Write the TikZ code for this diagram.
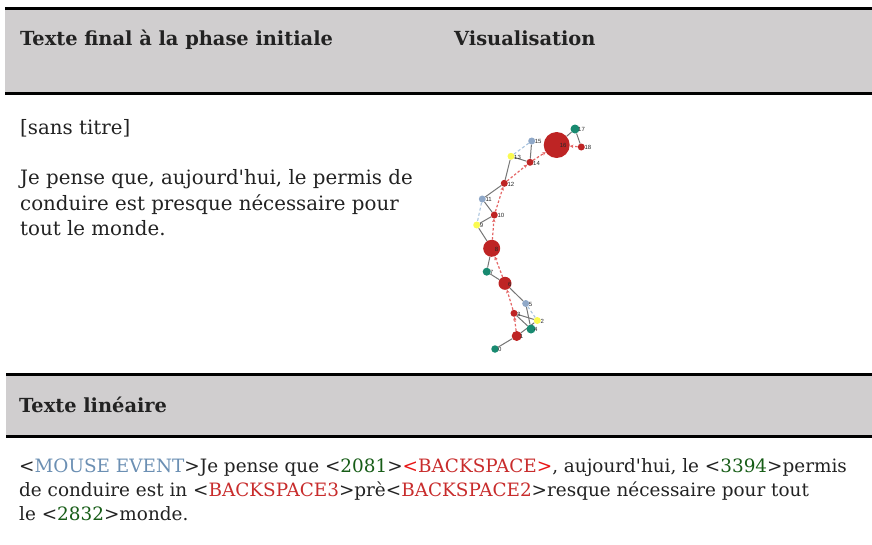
\documentclass[tikz,border=0pt]{standalone}
\usepackage{fontspec}
\usetikzlibrary{arrows.meta,backgrounds}
\newfontfamily\txtfont{DejaVu Serif}
\newfontfamily\lblfont{Liberation Sans}
\definecolor{bandgray}{RGB}{208,206,207}
\definecolor{ink}{RGB}{34,34,34}
\definecolor{mblue}{RGB}{107,143,179}
\definecolor{ngreen}{RGB}{22,92,22}
\definecolor{bsred}{RGB}{200,44,44}
\definecolor{brred}{RGB}{232,20,20}
\definecolor{gred}{RGB}{190,36,36}
\definecolor{gteal}{RGB}{24,138,112}
\definecolor{gblue}{RGB}{143,168,200}
\definecolor{gyellow}{RGB}{250,250,80}
\definecolor{dred}{RGB}{228,100,100}
\definecolor{dblue}{RGB}{170,196,222}
\definecolor{edgegray}{RGB}{118,118,118}
\tikzset{
  headtxt/.style={anchor=base west, inner sep=0, text=ink, font=\txtfont\bfseries\fontsize{19.4}{23}\selectfont},
  bodytxt/.style={anchor=base west, inner sep=0, text=ink, font=\txtfont\fontsize{19.8}{24}\selectfont},
  lintxt/.style={anchor=base west, inner sep=0, text=ink, font=\txtfont\fontsize{18.4}{22}\selectfont},
  gnode/.style={circle, inner sep=0, draw=none},
  lbl/.style={anchor=west, inner sep=0, text=black!85, font=\lblfont\fontsize{6}{7}\selectfont},
  solidedge/.style={draw=edgegray, line width=1pt},
  redarrow/.style={draw=dred, line width=1.2pt, dash pattern=on 2.5pt off 2pt, -{Stealth[length=3.5pt,width=3.5pt]}},
  bluedash/.style={draw=dblue, line width=1.1pt, dash pattern=on 3pt off 2.2pt},
}
\begin{document}
\begin{tikzpicture}[x=1pt,y=-1pt]
\useasboundingbox (0,0) rectangle (872,544);
% top band
\fill[bandgray] (5,10) rectangle (872,91.5);
\fill[black] (5,7) rectangle (872,10);
\fill[black] (5,91.5) rectangle (872,95);
% bottom band
\fill[bandgray] (6,376) rectangle (872,435);
\fill[black] (6,373) rectangle (872,376);
\fill[black] (6,435) rectangle (872,438);

\node[headtxt] (h1) at (20,45) {Texte final à la phase initiale};
\node[headtxt] (h2) at (454,45) {Visualisation};
\node[bodytxt] (t0) at (20,134) {[sans titre]};
\node[bodytxt] (t1) at (20,184) {Je pense que, aujourd'hui, le permis de};
\node[bodytxt] (t2) at (20,210) {conduire est presque nécessaire pour};
\node[bodytxt] (t3) at (20,235) {tout le monde.};
\node[headtxt] (h3) at (19,412) {Texte linéaire};
\node[lintxt] (l1) at (19,472) {<\textcolor{mblue}{MOUSE EVENT}>Je pense que <\textcolor{ngreen}{2081}>\textcolor{brred}{<}\textcolor{bsred}{BACKSPACE}\textcolor{brred}{>}, aujourd'hui, le <\textcolor{ngreen}{3394}>permis};
\node[lintxt] (l2) at (19,496) {de conduire est in <\textcolor{bsred}{BACKSPACE3}>prè<\textcolor{bsred}{BACKSPACE2}>resque nécessaire pour tout};
\node[lintxt] (l3) at (19,520) {le <\textcolor{ngreen}{2832}>monde.};

% graph nodes
\node[gnode, fill=gteal, minimum size=7.5pt] (n0) at (495,349) {};
\node[gnode, fill=gred, minimum size=10pt] (n1) at (516.7,336) {};
\node[gnode, fill=gyellow, minimum size=7pt] (n2) at (537.3,320.5) {};
\node[gnode, fill=gred, minimum size=7pt] (n3) at (514,313.3) {};
\node[gnode, fill=gteal, minimum size=9pt] (n4) at (531,329) {};
\node[gnode, fill=gblue, minimum size=7pt] (n5) at (525.7,303.5) {};
\node[gnode, fill=gred, minimum size=13pt] (n6) at (505,283.3) {};
\node[gnode, fill=gteal, minimum size=8pt] (n7) at (486.7,271.7) {};
\node[gnode, fill=gred, minimum size=17pt] (n8) at (491.7,248.3) {};
\node[gnode, fill=gyellow, minimum size=7pt] (n9) at (476.7,225) {};
\node[gnode, fill=gred, minimum size=7pt] (n10) at (494.3,215) {};
\node[gnode, fill=gblue, minimum size=7pt] (n11) at (482.3,199) {};
\node[gnode, fill=gred, minimum size=7pt] (n12) at (504.3,183.3) {};
\node[gnode, fill=gyellow, minimum size=7pt] (n13) at (511,156.3) {};
\node[gnode, fill=gred, minimum size=7pt] (n14) at (530,162.3) {};
\node[gnode, fill=gblue, minimum size=7pt] (n15) at (531.7,141) {};
\node[gnode, fill=gred, minimum size=26pt] (n16) at (556.7,145) {};
\node[gnode, fill=gteal, minimum size=9pt] (n17) at (575,129) {};
\node[gnode, fill=gred, minimum size=7pt] (n18) at (581.3,147) {};

\foreach \i in {0,...,18}{
  \node[lbl] (lb\i) at ([xshift=3pt,yshift=-0.8pt]n\i.center) {\i};
}

\begin{scope}[on background layer]
  \foreach \a/\b in {0/1,1/2,2/3,3/4,4/5,5/6,6/7,7/8,8/9,9/10,10/11,11/12,12/13,13/14,14/15,16/17,17/18}{
    \draw[solidedge] (n\a) -- (n\b);
  }
  \foreach \a/\b in {5/2,11/9,15/13}{
    \draw[bluedash] (n\a) -- (n\b);
  }
  \foreach \a/\b in {1/3,3/6,6/8,8/10,10/12,12/14,14/16,18/16}{
    \draw[redarrow] (n\a) -- (n\b);
  }
\end{scope}
\end{tikzpicture}
\end{document}
